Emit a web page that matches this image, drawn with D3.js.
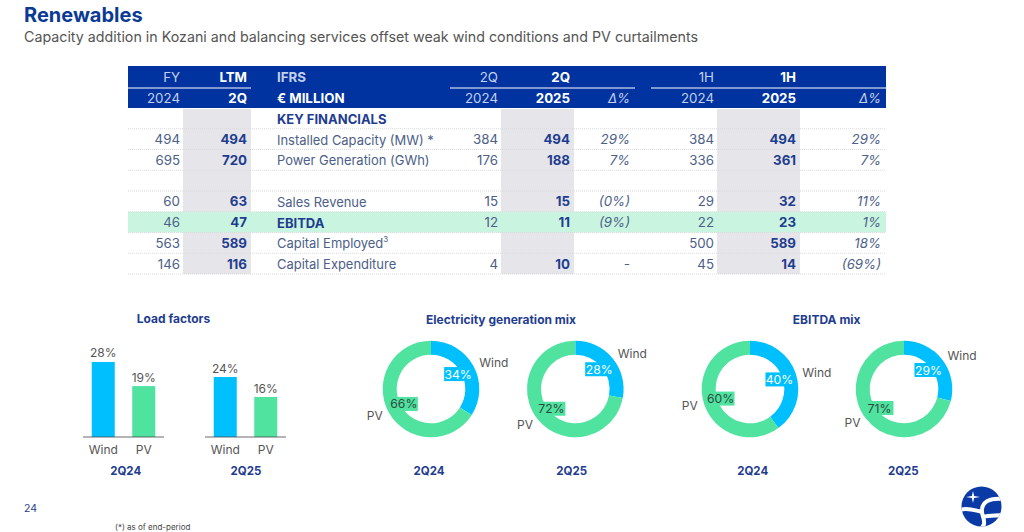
<!DOCTYPE html>
<html><head><meta charset="utf-8">
<script src="https://cdn.jsdelivr.net/npm/d3@7"></script>
<style>
html,body{margin:0;padding:0;background:#fff;overflow:hidden}
svg{display:block}
text{font-family:"Inter",sans-serif}
</style></head><body>
<svg id="c" width="1024" height="532"></svg>
<script>
const rowLabels=["KEY FINANCIALS","Installed Capacity (MW) *","Power Generation (GWh)","","Sales Revenue","EBITDA","Capital Employed","Capital Expenditure"];
const fy2024=["","494","695","","60","46","563","146"];
const ltm2q=["","494","720","","63","47","589","116"];
const q2024=["","384","176","","15","12","","4"];
const q2025=["","494","188","","15","11","","10"];
const qDelta=["","29%","7%","","(0%)","(9%)","","-"];
const h2024=["","384","336","","29","22","500","45"];
const h2025=["","494","361","","32","23","589","14"];
const hDelta=["","29%","7%","","11%","1%","18%","(69%)"];
const loadCats=["Wind","PV"];
const load2Q24=[28,19];
const load2Q25=[24,16];
const mixCats=["Wind","PV"];
const genMix2Q24=[34,66];
const genMix2Q25=[28,72];
const ebitdaMix2Q24=[40,60];
const ebitdaMix2Q25=[29,71];

const NAVY="#0033a0",INK="#1f3d8f",BODY="#4c6088",GREY="#e6e6ea",BAND="#c9f5e0",WIND="#00bfff",PV="#50e3a0",TXT="#555";
const svg=d3.select("#c");
const txt=(g,x,y,s,o={})=>g.append("text").attr("x",x).attr("y",y).attr("text-anchor",o.a||"start").attr("dominant-baseline","central")
  .attr("font-size",o.s||13).attr("font-weight",o.b?700:400).attr("font-style",o.i?"italic":"normal").attr("fill",o.c||BODY).text(s);

// heading
txt(svg,24,15,"Renewables",{s:20,b:1,c:"#0b3a94"});
txt(svg,24,36,"Capacity addition in Kozani and balancing services offset weak wind conditions and PV curtailments",{s:14.25,c:"#555"});
txt(svg,24,508,"24",{s:10.5,c:"#1f3d8f"});
txt(svg,115,527,"(*) as of end-period",{s:8,c:"#444"});

// table
const T=svg.append("g");
const y=d3.scaleBand().domain(d3.range(rowLabels.length)).range([108,274]);
const greyCols=[[183,251],[501,574],[717,800]];
T.selectAll("rect.g").data(greyCols).join("rect").attr("x",d=>d[0]).attr("width",d=>d[1]-d[0]).attr("y",109).attr("height",165).attr("fill",GREY);
T.append("rect").attr("x",128).attr("width",758).attr("y",y(5)).attr("height",y.bandwidth()).attr("fill",BAND);
T.selectAll("line.r").data(d3.range(rowLabels.length)).join("line").attr("x1",128).attr("x2",886)
 .attr("y1",i=>y(i)+y.bandwidth()).attr("y2",i=>y(i)+y.bandwidth()).attr("stroke","#dadade").attr("stroke-width",1).attr("stroke-dasharray","1 1");
T.append("rect").attr("x",128).attr("y",66).attr("width",758).attr("height",42).attr("fill",NAVY);
[[128,251],[450,635],[651,886]].forEach(d=>T.append("line").attr("x1",d[0]).attr("x2",d[1]).attr("y1",88).attr("y2",88).attr("stroke","#fff").attr("stroke-width",1));
const hW="#fff",hL="#c4d0ea";
[[180,"FY","2024",0],[247,"LTM","2Q",1],[498,"2Q","2024",0],[570,"2Q","2025",1],[714,"1H","2024",0],[796,"1H","2025",1]].forEach(d=>{
  txt(T,d[0],77,d[1],{a:"end",c:d[3]?hW:hL,b:d[3],s:13.3});
  txt(T,d[0],98,d[2],{a:"end",c:d[3]?hW:hL,b:d[3],s:13.3});
});
txt(T,277,77,"IFRS",{c:hL,b:1,s:13.3});
txt(T,277,98,"€ MILLION",{c:hW,b:1,s:13.3});
txt(T,630,98,"Δ%",{a:"end",c:hL,i:1,s:13.3});
txt(T,881,98,"Δ%",{a:"end",c:hL,i:1,s:13.3});
const cols=[[fy2024,180,{}],[ltm2q,247,{b:1,c:INK}],[q2024,498,{}],[q2025,570,{b:1,c:INK}],[qDelta,630,{i:1}],[h2024,714,{}],[h2025,796,{b:1,c:INK}],[hDelta,881,{i:1}]];
cols.forEach(([vals,x,o])=>vals.forEach((v,i)=>{if(v)txt(T,x,y(i)+y.bandwidth()/2,v,Object.assign({a:"end",s:13.3},o));}));
rowLabels.forEach((l,i)=>{if(!l)return;
  const bold=l==="KEY FINANCIALS"||l==="EBITDA";
  const t=txt(T,277,y(i)+y.bandwidth()/2+.4,l,{s:bold?13:12.95,b:bold,c:bold?INK:BODY});
  if(l==="Capital Employed")t.append("tspan").attr("dy",-4).attr("font-size",8).text("3");
});

// bars
function bars(x0,x1,vals,per,period,hPer){
  const g=svg.append("g");
  const x=d3.scaleBand().domain(loadCats).range([x0,x1]).paddingInner(.432).paddingOuter(.216);
  const h=d3.scaleLinear().domain([0,30]).range([437,437-hPer]);
  g.selectAll("rect").data(vals).join("rect").attr("x",(d,i)=>x(loadCats[i])).attr("width",x.bandwidth())
    .attr("y",d=>h(d)).attr("height",d=>437-h(d)).attr("fill",(d,i)=>i?PV:WIND);
  g.append("line").attr("x1",x0).attr("x2",x1).attr("y1",437).attr("y2",437).attr("stroke","#444").attr("stroke-width",.8);
  vals.forEach((d,i)=>{const c=x(loadCats[i])+x.bandwidth()/2;
    txt(g,c,h(d)-9,d+"%",{a:"middle",s:12,c:TXT});
    txt(g,c,449,loadCats[i],{a:"middle",s:12,c:TXT});});
  txt(g,per,471,period,{a:"middle",s:11.5,b:1,c:INK});
}
bars(83,164,load2Q24,125.7,"2Q24",80.4);
bars(205,286,load2Q25,246,"2Q25",75);
txt(svg,173.5,318.7,"Load factors",{a:"middle",s:12,b:1,c:INK});
txt(svg,501,319.5,"Electricity generation mix",{a:"middle",s:12,b:1,c:INK});
txt(svg,826.7,319.5,"EBITDA mix",{a:"middle",s:12,b:1,c:INK});

// donuts
function donut(cx,vals,per,period){
  const g=svg.append("g").attr("transform",`translate(${cx},389)`);
  const pie=d3.pie().sort(null)(vals);
  const arc=d3.arc().innerRadius(34.3).outerRadius(48.3);
  g.selectAll("path").data(pie).join("path").attr("d",arc).attr("fill",(d,i)=>i?PV:WIND);
  const inner=d3.arc().innerRadius(31).outerRadius(31);
  const outer=d3.arc().innerRadius(55).outerRadius(55);
  pie.forEach((d,i)=>{
    const [lx,ly]=inner.centroid(d);
    g.append("rect").attr("fill",i?PV:WIND).attr("x",lx-14).attr("y",ly-7).attr("width",28).attr("height",14);
    txt(g,lx,ly,vals[i]+"%",{a:"middle",s:12.2,c:i?"#2e4a3e":"#fff"});
    const [ox,oy]=outer.centroid(d);
    txt(g,ox,oy,mixCats[i],{a:i?"end":"start",s:12,c:TXT});
  });
  txt(svg,per,470.5,period,{a:"middle",s:11.5,b:1,c:INK});
}
donut(431,genMix2Q24,429,"2Q24");
donut(575.3,genMix2Q25,571.7,"2Q25");
donut(750,ebitdaMix2Q24,752.7,"2Q24");
donut(904,ebitdaMix2Q25,903.3,"2Q25");

// logo
const defs=svg.append("defs");
defs.append("clipPath").attr("id","lg").append("circle").attr("cx",981.5).attr("cy",506.5).attr("r",20);
const L=svg.append("g").attr("clip-path","url(#lg)");
L.append("rect").attr("x",960).attr("y",485).attr("width",44).attr("height",44).attr("fill","#0a3aa5");
["M1003 499 C990 498 983 502 982 509 C981 515 985 518 984 524 C983 527 981 529 980 531","M960 510 C968 507 976 511 983 512","M983 517 C990 515 996 516 1003 515"].forEach(p=>
  L.append("path").attr("d",p).attr("fill","none").attr("stroke","#fff").attr("stroke-width",4));
L.append("path").attr("d","M973 491 L974.2 496 L980 497 L974.2 498 L973 503 L971.8 498 L966 497 L971.8 496Z").attr("fill","#fff");
</script></body></html>
